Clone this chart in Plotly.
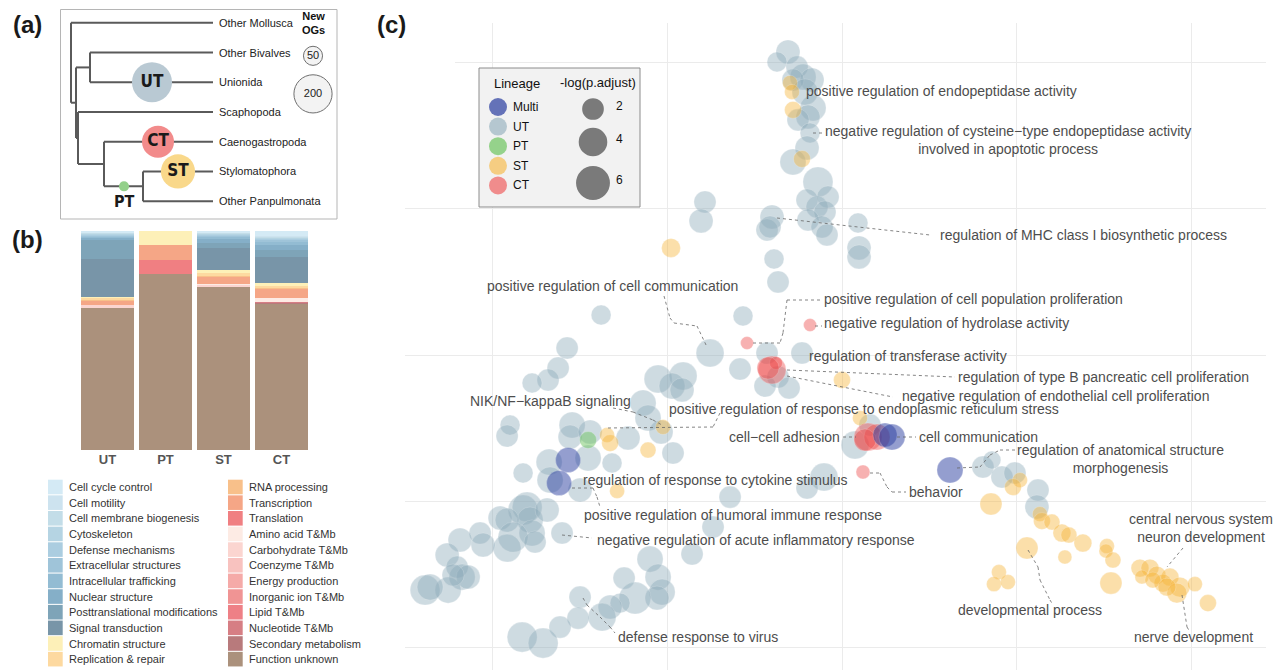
import math
import plotly.graph_objects as go

W, H = 1282, 670
FONT = "Liberation Sans, Arial, Helvetica, sans-serif"
NARROW = "Liberation Sans Narrow, DejaVu Sans Condensed, Liberation Sans, sans-serif"

# ======================= DATA =======================
# ---- Panel (a): phylogeny ----
tip_names = ["Other Mollusca", "Other Bivalves", "Unionida", "Scaphopoda",
             "Caenogastropoda", "Stylomatophora", "Other Panpulmonata"]
tip_rank = [7, 6, 5, 4, 3, 2, 1]
tip_depth = 15.3
node_names = ["root", "A", "Biv", "B", "Gas", "Pan"]
node_depth = [1.1, 1.6, 3.0, 1.8, 4.4, 8.3]
node_rank = [5.656, 4.3125, 5.5, 3.125, 2.25, 1.5]
edge_parent = ["root", "root", "A", "A", "Biv", "Biv", "B", "B", "Gas", "Gas", "Pan", "Pan"]
edge_child = ["Other Mollusca", "A", "Biv", "B", "Other Bivalves", "Unionida",
              "Scaphopoda", "Gas", "Caenogastropoda", "Pan", "Stylomatophora", "Other Panpulmonata"]
tree_lineages = ["UT", "CT", "ST", "PT"]
tree_lin_depth = [9.2, 9.8, 11.8, 6.4]
tree_lin_rank = [5, 3, 2, 1.5]
new_ogs = [220, 140, 160, 14]
og_legend_counts = [50, 200]
og_legend_rank = [5.89, 4.61]
og_legend_depth = 25.3

# ---- Panel (b): COG composition ----
bar_lineages = ["UT", "PT", "ST", "CT"]
cog_categories = ["Cell cycle control", "Cell motility", "Cell membrane biogenesis", "Cytoskeleton",
                  "Defense mechanisms", "Extracellular structures", "Intracellular trafficking",
                  "Nuclear structure", "Posttranslational modifications", "Signal transduction",
                  "Chromatin structure", "Replication & repair", "RNA processing", "Transcription",
                  "Translation", "Amino acid T&Mb", "Carbohydrate T&Mb", "Coenzyme T&Mb",
                  "Energy production", "Inorganic ion T&Mb", "Lipid T&Mb", "Nucleotide T&Mb",
                  "Secondary metabolism", "Function unknown"]
cog_colors = ["#d4eaf5", "#cde3ef", "#c3dde8", "#b5d4e3", "#abcde0", "#9fc4d9", "#93bcd3",
              "#85afc8", "#7ea4b8", "#7895a8", "#fdf0b8", "#fdd9a0", "#f8c08a", "#f5a686",
              "#f07f82", "#fdebe4", "#fbd5d0", "#f8c2bf", "#f5aaa8", "#f09494", "#ee8086",
              "#d67e84", "#b87a7c", "#ab917c"]
# percentages per category for UT, PT, ST, CT
cog_pct = [
    [0.5, 0, 0.5, 2.3], [0.3, 0, 0.3, 0.3], [0.3, 0, 0.3, 0.4], [0.4, 0, 0.4, 0.5],
    [0.4, 0, 0.5, 0.6], [0.5, 0, 0.7, 0.9], [0.5, 0, 1.0, 1.5], [0.9, 0, 2.0, 2.3],
    [8.9, 0, 2.3, 3.4], [17.6, 0, 9.9, 12.0], [0.6, 6.4, 1.5, 1.4], [0.6, 0, 1.5, 0.5],
    [0.4, 0, 0.3, 0.8], [2.3, 6.8, 3.2, 4.3], [0, 6.4, 0, 0], [0, 0, 0.3, 1.8],
    [0.9, 0, 0.9, 0], [0, 0, 0, 0], [0, 0, 0, 0], [0, 0, 0, 0], [0, 0, 0, 0],
    [0, 0, 0, 0.2], [0, 0, 0, 0.3], [65.9, 80.4, 75.5, 68.2]]

# ---- Panel (c): GO term map (x, y, -log(p.adjust)) ----
ut_x = [-6.18, -7.44, -5.15, -4.46, -3.43, -5.61, -4.23, -3.32, -3.89, -5.03, -3.66, -4.0, -5.61, -2.75, -4.0, -1.6, -2.86, -1.95, -3.89, -2.29, -1.72, -8.01, -8.58, -8.24, -7.78, -7.32, -15.68, -16.13, -27.57, -11.33, 1.83, 1.95, 1.95,
        -15.1, -8.58, -4.58, -11.67, -7.32, -8.81, -6.06, -21.05, -18.19, -19.45, -18.31, -31.46, -32.49, -33.64, -35.47, -37.99, -38.33, -22.77, -22.2, -20.71, -30.89, -31.12, -28.83, -24.49, -19.34, -33.52, -29.06, -26.32, -36.5, -29.98, -33.41, -12.81, -2.06, -4.0, -14.76, 3.2, 1.49,
        16.13, 17.16, 18.31, 19.79, 22.43, 22.31,
        -36.5, -36.04, -35.7, -39.13, -33.75, -32.04, -38.33, -35.47, -37.64, -35.13, -38.33, -41.42, -43.71, -41.08, -45.19, -44.05, -43.48, -42.79, -45.08, -47.71, -47.14, -44.51,
        -17.16, -21.97, -24.94, -21.05, -20.59, -21.17, -23.68, -25.4, -26.54, -27.46, -29.98, -30.21, -32.27, -36.61, -34.21]
ut_y = [41.45, 40.08, 39.4, 38.03, 37.62, 37.62, 35.98, 33.79, 32.56, 32.15, 30.37, 28.32, 26.4, 23.67, 21.2, 21.61, 20.25, 19.56, 18.47, 17.51, 16.42, 18.88, 17.1, 17.51, 13.13, 9.99, 20.93, 18.33, 5.47, 5.34, 18.06, 14.64, 13.41,
        0.27, 0.27, 0.27, -1.92, -3.01, -4.24, -4.51, -3.28, -2.87, -4.24, -4.79, 0.96, -1.78, -3.42, -3.83, -9.58, -11.08, -6.57, -8.62, -10.53, -9.58, -11.22, -10.53, -11.35, -13.41, -14.64, -14.09, -14.77, -16.14, -18.47, -17.1, -19.43, -16.69, -18.19, -23.53, -9.58, -12.31,
        -15.32, -14.36, -16.69, -16.14, -18.47, -20.79,
        -21.2, -20.79, -22.57, -22.3, -21.2, -24.35, -22.57, -24.35, -24.9, -25.58, -26.4, -24.35, -25.31, -25.99, -27.36, -29.0, -30.37, -30.37, -32.15, -32.15, -31.74, -30.1,
        -27.22, -27.91, -30.51, -30.37, -32.42, -33.24, -33.24, -33.93, -34.47, -35.84, -33.11, -35.98, -37.21, -38.58, -39.4]
ut_p = [2.6, 1.6, 2.1, 3.2, 2.6, 2.1, 3.2, 3.2, 2.6, 2.1, 1.6, 2.6, 3.2, 4.5, 2.1, 2.1, 2.1, 2.1, 2.1, 2.1, 2.1, 2.6, 2.1, 2.1, 1.6, 2.1, 2.1, 2.6, 1.6, 1.6, 1.6, 2.6, 2.6,
        3.8, 2.1, 2.1, 2.1, 2.1, 2.1, 2.1, 3.8, 3.8, 3.2, 2.6, 2.1, 2.1, 2.1, 1.6, 1.6, 2.1, 3.2, 3.2, 2.6, 3.2, 2.6, 2.6, 2.6, 2.1, 3.2, 3.2, 1.6, 1.6, 2.6, 3.2, 2.1, 3.8, 2.1, 2.1, 2.1, 3.8,
        2.1, 1.2, 2.1, 2.1, 2.1, 2.6,
        4.5, 4.5, 3.2, 2.6, 2.6, 2.1, 2.6, 3.2, 4.5, 2.1, 3.8, 2.1, 2.6, 2.6, 2.6, 2.1, 3.2, 2.6, 3.2, 4.5, 3.2, 2.1,
        2.1, 3.2, 2.1, 3.2, 3.2, 2.6, 5.2, 1.6, 2.6, 3.8, 2.1, 2.1, 2.1, 4.5, 4.5]

st_x = [-5.95, -5.72, -5.61, -4.58, -19.57,
        -20.48, -26.89, -26.54, -22.2, -25.74, 0.0, 2.06,
        20.37, 19.57, 17.05, 22.65, 22.88, 24.03, 25.17, 25.97, 27.57, 21.17, 25.51, 30.32, 30.21, 31.01, 30.78, 17.96, 17.39, 18.99, 34.1, 35.24, 36.04, 34.32, 37.53, 36.73, 38.67, 38.33, 40.39, 41.88, 35.58, 37.19]
st_y = [37.21, 35.98, 33.52, 26.81, 14.64,
        -9.85, -10.94, -12.04, -13.0, -18.6, -3.42, -8.62,
        -17.1, -18.06, -20.38, -21.75, -22.71, -22.85, -24.35, -24.62, -25.72, -26.4, -27.63, -26.13, -26.81, -28.04, -31.19, -29.69, -31.33, -31.05, -29.14, -29.14, -30.1, -30.37, -30.37, -31.19, -31.74, -32.56, -31.33, -33.93, -30.78, -31.74]
st_p = [0.72, 0.72, 1.03, 1.03, 1.4,
        0.72, 0.72, 1.03, 0.87, 0.72, 1.03, 0.72,
        0.72, 1.03, 2.1, 0.72, 1.03, 0.87, 1.2, 0.87, 1.2, 2.1, 0.58, 0.72, 0.58, 0.87, 2.1, 0.72, 0.72, 0.72, 1.2, 1.2, 1.2, 0.58, 1.2, 1.2, 1.6, 1.6, 0.72, 1.03, 0.87, 1.2]

ct_x = [-3.66, -10.87, -8.01, -7.55, -8.47, 2.97, 4.0, 2.63, 2.4]
ct_y = [4.1, 1.64, -2.05, -1.09, -1.78, -11.22, -11.22, -11.63, -16.0]
ct_p = [0.46, 0.46, 3.8, 0.46, 2.1, 3.8, 3.2, 2.1, 0.58]

pt_x = [-29.06]
pt_y = [-11.63]
pt_p = [1.03]

multi_x = [-31.35, -32.38, 4.92, 5.72, 12.36]
multi_y = [-14.36, -17.51, -10.94, -11.22, -15.73]
multi_p = [2.9, 2.9, 2.6, 3.2, 3.2]

lineage_order = ["Multi", "UT", "PT", "ST", "CT"]
size_legend_vals = [2, 4, 6]

# GO labels: text, anchor point (px in panel), anchor side
go_labels = [
    ("positive regulation of endopeptidase activity", 805, 91, "left"),
    ("negative regulation of cysteine\u2212type endopeptidase activity<br>involved in apoptotic process", 1007.5, 140.5, "center"),
    ("regulation of MHC class I biosynthetic process", 939, 235, "left"),
    ("positive regulation of cell communication", 486, 286, "left"),
    ("positive regulation of cell population proliferation", 823, 299, "left"),
    ("negative regulation of hydrolase activity", 823, 323, "left"),
    ("regulation of transferase activity", 808, 356, "left"),
    ("regulation of type B pancreatic cell proliferation", 957, 377, "left"),
    ("negative regulation of endothelial cell proliferation", 901, 396, "left"),
    ("NIK/NF\u2212kappaB signaling", 469, 401, "left"),
    ("positive regulation of response to endoplasmic reticulum stress", 668, 409, "left"),
    ("cell\u2212cell adhesion", 728, 437, "left"),
    ("cell communication", 918, 437, "left"),
    ("regulation of anatomical structure<br>morphogenesis", 1120, 458.5, "center"),
    ("behavior", 908, 492, "left"),
    ("regulation of response to cytokine stimulus", 582, 480, "left"),
    ("positive regulation of humoral immune response", 583, 515, "left"),
    ("negative regulation of acute inflammatory response", 596, 540, "left"),
    ("defense response to virus", 617, 637, "left"),
    ("developmental process", 957, 610, "left"),
    ("central nervous system<br>neuron development", 1201, 528, "center"),
    ("nerve development", 1133, 637, "left"),
]
leaders = [
    [(813, 133), (824, 133)],
    [(777, 218), (930, 235)],
    [(664, 296), (670, 318), (674, 323), (697, 326), (707, 347)],
    [(820, 300), (787, 300), (783, 333), (780, 343), (752, 343)],
    [(815, 326), (822, 326)],
    [(787, 370), (955, 377)],
    [(787, 376), (893, 397)],
    [(613, 408), (633, 412), (653, 420), (662, 425)],
    [(720, 413), (713, 427), (605, 428)],
    [(843, 437), (856, 437)],
    [(897, 437), (916, 437)],
    [(957, 468), (980, 467), (990, 455), (1000, 450), (1015, 450)],
    [(870, 473), (880, 473), (887, 487), (892, 492), (906, 492)],
    [(572, 488), (593, 488), (597, 497), (600, 507)],
    [(562, 535), (592, 538)],
    [(583, 598), (587, 605), (600, 617), (610, 627), (615, 633)],
    [(1028, 550), (1038, 567), (1040, 580), (1050, 600), (1053, 605)],
    [(1183, 548), (1167, 567)],
    [(1182, 595), (1187, 627), (1190, 632)],
]

# ======================= STYLE / HELPERS =======================
lin_fill = {"Multi": "rgba(40,60,160,0.7)", "UT": "rgba(140,170,185,0.6)",
            "PT": "rgba(110,196,96,0.7)", "ST": "rgba(247,180,55,0.6)", "CT": "rgba(238,72,72,0.6)"}
tree_fill = {"UT": "#b9c9d3", "CT": "#f28b8b", "ST": "#f9d88a", "PT": "#93d08a"}


def px2x(p):
    return p / W


def py2y(p):
    return 1 - p / H


CX0, CXS = 842, 8.7375
CY0, CYS = 355, 7.3125


def cdx(p):
    return (p - CX0) / CXS


def cdy(p):
    return (CY0 - p) / CYS


def go_size(v):
    return 5 + 11.8 * math.sqrt(v)


def og_size(n):
    return 2.7 * math.sqrt(n)


fig = go.Figure()
shapes = []
annotations = []

# ======================= PANEL (a) =======================
pos = {n: (d, r) for n, d, r in zip(node_names, node_depth, node_rank)}
pos.update({n: (tip_depth, r) for n, r in zip(tip_names, tip_rank)})
tx, ty = [], []
for parent in node_names:
    kids = [c for p, c in zip(edge_parent, edge_child) if p == parent]
    pdp, _ = pos[parent]
    rs = [pos[c][1] for c in kids]
    tx += [pdp, pdp, None]
    ty += [min(rs), max(rs), None]
    for c in kids:
        cdp, cr = pos[c]
        tx += [pdp, cdp, None]
        ty += [cr, cr, None]
fig.add_trace(go.Scatter(x=tx, y=ty, mode="lines", line=dict(color="#5a5a5a", width=2),
                         xaxis="x2", yaxis="y2", hoverinfo="skip", showlegend=False))
fig.add_trace(go.Scatter(
    x=tree_lin_depth, y=tree_lin_rank, mode="markers+text",
    text=[l if l != "PT" else "" for l in tree_lineages],
    textfont=dict(family=NARROW, size=17, color="#1a1a1a", weight="bold"),
    textposition="middle center",
    marker=dict(size=[og_size(n) for n in new_ogs], color=[tree_fill[l] for l in tree_lineages],
                line=dict(width=0), opacity=1),
    xaxis="x2", yaxis="y2", hoverinfo="skip", showlegend=False))
fig.add_trace(go.Scatter(
    x=[og_legend_depth] * 2, y=og_legend_rank, mode="markers+text",
    text=[str(c) for c in og_legend_counts], textposition="middle center",
    textfont=dict(family=FONT, size=11, color="#222"),
    marker=dict(size=[og_size(n) for n in og_legend_counts], color="#eeeeee",
                line=dict(color="#333333", width=1)),
    xaxis="x2", yaxis="y2", hoverinfo="skip", showlegend=False))
for n, r in zip(tip_names, tip_rank):
    annotations.append(dict(x=tip_depth + 0.35, y=r, xref="x2", yref="y2", text=n, showarrow=False,
                            xanchor="left", yanchor="middle", font=dict(family=FONT, size=11, color="#222")))
pt_i = tree_lineages.index("PT")
annotations.append(dict(x=tree_lin_depth[pt_i], y=tree_lin_rank[pt_i] - 0.52, xref="x2", yref="y2",
                        text="PT", showarrow=False, xanchor="center", yanchor="middle",
                        font=dict(family=NARROW, size=16, color="#1a1a1a", weight="bold")))
annotations.append(dict(x=og_legend_depth, y=7.0, xref="x2", yref="y2", text="New<br>OGs",
                        showarrow=False, xanchor="center", yanchor="middle",
                        font=dict(family=FONT, size=11, color="#111", weight="bold")))
shapes.append(dict(type="rect", xref="paper", yref="paper", x0=px2x(60.5), x1=px2x(337),
                   y0=py2y(219), y1=py2y(9.5), line=dict(color="#b5b5b5", width=1), layer="below"))

# ======================= PANEL (b) =======================
for cat, col, vals in reversed(list(zip(cog_categories, cog_colors, cog_pct))):
    fig.add_trace(go.Bar(x=bar_lineages, y=vals, name=cat, marker=dict(color=col, line=dict(width=0)),
                         xaxis="x3", yaxis="y3", hoverinfo="skip", showlegend=False))

row0, rowstep = 487, 15.65
for i, (cat, col) in enumerate(zip(cog_categories, cog_colors)):
    colx = 48 if i < 12 else 228
    cy = row0 + (i % 12) * rowstep
    shapes.append(dict(type="rect", xref="paper", yref="paper", x0=px2x(colx), x1=px2x(colx + 14.7),
                       y0=py2y(cy + 7.3), y1=py2y(cy - 7.3), fillcolor=col, line=dict(width=0)))
    annotations.append(dict(x=px2x(colx + 19), y=py2y(cy), xref="paper", yref="paper", text=cat,
                            showarrow=False, xanchor="left", yanchor="middle",
                            font=dict(family=FONT, size=11, color="#333")))

# ======================= PANEL (c) =======================
series = {"UT": (ut_x, ut_y, ut_p), "ST": (st_x, st_y, st_p), "PT": (pt_x, pt_y, pt_p),
          "CT": (ct_x, ct_y, ct_p), "Multi": (multi_x, multi_y, multi_p)}
for lin in ["UT", "ST", "PT", "CT", "Multi"]:
    xs, ys, ps = series[lin]
    fig.add_trace(go.Scatter(x=xs, y=ys, mode="markers", name=lin,
                             marker=dict(size=[go_size(v) for v in ps], color=lin_fill[lin],
                                         line=dict(color="rgba(255,255,255,0.45)", width=0.6)),
                             hoverinfo="skip", showlegend=False))

for pts in leaders:
    for (x0, y0), (x1, y1) in zip(pts[:-1], pts[1:]):
        shapes.append(dict(type="line", xref="x", yref="y", x0=cdx(x0), y0=cdy(y0), x1=cdx(x1), y1=cdy(y1),
                           line=dict(color="#666666", width=0.8, dash="3px,3px"), layer="above"))
for text, lx, ly, anc in go_labels:
    annotations.append(dict(x=cdx(lx), y=cdy(ly), xref="x", yref="y", text=text, showarrow=False,
                            xanchor=anc, yanchor="middle", align="center", borderpad=0,
                            font=dict(family=FONT, size=14, color="#4d4d4d")))

# white patch over the top-left corner of panel (c) (as in the composed figure)
shapes.append(dict(type="rect", xref="paper", yref="paper", x0=px2x(398), x1=px2x(455),
                   y0=py2y(66), y1=py2y(0), fillcolor="white", line=dict(width=0), layer="above"))

# legend box for panel (c)
shapes.append(dict(type="rect", xref="paper", yref="paper", x0=px2x(479), x1=px2x(640),
                   y0=py2y(207), y1=py2y(68), fillcolor="#f2f2f2", line=dict(color="#8c8c8c", width=1),
                   layer="above"))
annotations.append(dict(x=px2x(517), y=py2y(83), xref="paper", yref="paper", text="Lineage", showarrow=False,
                        xanchor="center", yanchor="middle", font=dict(family=FONT, size=13, color="#111")))
annotations.append(dict(x=px2x(598), y=py2y(82), xref="paper", yref="paper", text="-log(p.adjust)",
                        showarrow=False, xanchor="center", yanchor="middle",
                        font=dict(family=FONT, size=13, color="#111")))
for i, lin in enumerate(lineage_order):
    cy = 107 + i * 19.6
    shapes.append(dict(type="circle", xref="paper", yref="paper", x0=px2x(489), x1=px2x(507),
                       y0=py2y(cy + 9), y1=py2y(cy - 9), fillcolor=lin_fill[lin], line=dict(width=0),
                       layer="above"))
    annotations.append(dict(x=px2x(511), y=py2y(cy), xref="paper", yref="paper", text=lin, showarrow=False,
                            xanchor="left", yanchor="middle", font=dict(family=FONT, size=12, color="#111")))
for v, cy, ty_ in zip(size_legend_vals, [109, 142, 183], [106, 139, 180]):
    d = go_size(v)
    shapes.append(dict(type="circle", xref="paper", yref="paper", x0=px2x(593 - d / 2), x1=px2x(593 + d / 2),
                       y0=py2y(cy + d / 2), y1=py2y(cy - d / 2), fillcolor="#7a7a7a", line=dict(width=0),
                       layer="above"))
    annotations.append(dict(x=px2x(614), y=py2y(ty_), xref="paper", yref="paper", text=str(v), showarrow=False,
                            xanchor="left", yanchor="middle", font=dict(family=FONT, size=12, color="#111")))

# panel letters
for t, x, y in [("(a)", 27, 25), ("(b)", 27, 240), ("(c)", 391, 25)]:
    annotations.append(dict(x=px2x(x), y=py2y(y), xref="paper", yref="paper", text=t, showarrow=False,
                            xanchor="center", yanchor="middle",
                            font=dict(family=FONT, size=24, color="#1a1a1a", weight="bold")))

TOP = 23
fig.update_layout(
    width=W, height=H, margin=dict(l=0, r=0, t=0, b=0),
    paper_bgcolor="white", plot_bgcolor="rgba(0,0,0,0)",
    barmode="stack", barnorm="percent", bargap=0.086,
    hovermode=False, showlegend=False,
    font=dict(family=FONT),
    xaxis=dict(domain=[px2x(405), px2x(1266)], range=[cdx(405), cdx(1266)], tick0=0, dtick=20,
               showgrid=True, gridcolor="#ebebeb", gridwidth=1, zeroline=False, showticklabels=False,
               ticks="", showline=False, anchor="y"),
    yaxis=dict(domain=[0, py2y(TOP)], range=[cdy(670), cdy(TOP)], tick0=0, dtick=20,
               showgrid=True, gridcolor="#ebebeb", gridwidth=1, zeroline=False, showticklabels=False,
               ticks="", showline=False, anchor="x"),
    xaxis2=dict(domain=[px2x(60), px2x(337)], range=[0, 27.7], visible=False, anchor="y2"),
    yaxis2=dict(domain=[py2y(219), py2y(5)], range=[0.4, 7.6], visible=False, anchor="x2"),
    xaxis3=dict(domain=[px2x(78.5), px2x(310.5)], type="category", showgrid=False, zeroline=False,
                showline=False, ticks="", anchor="y3",
                tickfont=dict(family=FONT, size=13, color="#555555", weight="bold")),
    yaxis3=dict(domain=[py2y(450), py2y(231)], range=[0, 100], visible=False, anchor="x3"),
    shapes=shapes, annotations=annotations,
)

fig.write_html("out.html", config={"displayModeBar": False},
               post_script="document.body.style.margin='0';document.body.style.overflow='hidden';")
